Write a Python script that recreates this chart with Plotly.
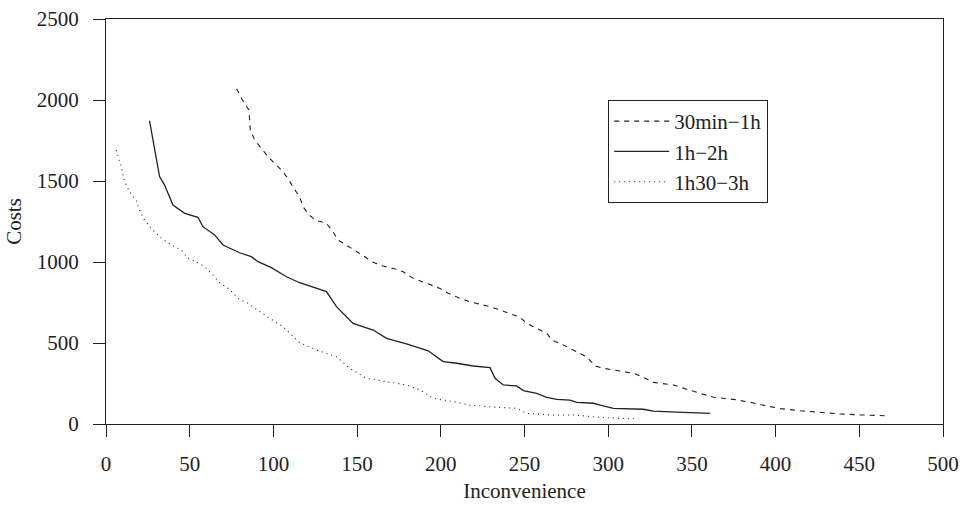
import plotly.graph_objects as go

# 30min-1h (dashed)
dashed_x = [78, 81.5, 85.4, 86.2, 88.8, 92.8, 96.8, 100.8, 105.7, 109.3, 112.1, 115.7, 117.7, 121.3, 125.7, 131.7,
            135.6, 138.6, 143.7, 148.6, 154, 158.6, 165.6, 173.6, 177.5, 183.5, 191.5, 199.5, 204.4, 211.4, 217.4,
            223.4, 229.4, 235.3, 241.3, 247.3, 251.3, 257.3, 263.3, 266.3, 273.2, 281.2, 287.2, 292.2, 297.1, 315.1,
            321, 327, 339, 347, 355, 362.9, 374.9, 384.9, 394.9, 402.8, 414.8, 426.8, 438.8, 450.7, 466.2]
dashed_y = [2070, 2000, 1938, 1815, 1753, 1702, 1650, 1609, 1557, 1506, 1455, 1403, 1341, 1290, 1255, 1239,
            1187, 1136, 1105, 1070, 1037, 1002, 975, 955, 940, 899, 868, 837, 807, 776, 755,
            741, 724, 704, 683, 659, 621, 591, 560, 519, 488, 446, 415, 358, 344, 313,
            288, 257, 241, 214, 189, 165, 152, 134, 111, 95, 82, 70, 62, 56, 51]

# 1h-2h (solid)
solid_x = [26, 27, 29, 30.4, 32, 35, 38, 40, 47, 54.9, 57.9, 64.9, 69.9, 79.8, 86.8, 90.8, 98.8, 107.8, 115.7,
           131.7, 137.7, 147.6, 159.6, 167.6, 179.5, 192.5, 201.4, 209.5, 219.4, 229.4, 232.4, 237.3, 245.3,
           249.3, 257.3, 263.3, 269.3, 277.2, 281.2, 291.2, 295.2, 303.1, 321, 327, 345, 361]
solid_y = [1872, 1815, 1712, 1609, 1527, 1475, 1403, 1352, 1300, 1276, 1218, 1167, 1105, 1057, 1033, 1002, 965,
           909, 872, 817, 724, 621, 580, 529, 494, 452, 385, 375, 358, 348, 282, 241, 235,
           206, 189, 165, 152, 148, 134, 128, 117, 97, 91, 80, 72, 66]

# 1h30-3h (dotted)
dotted_x = [6.1, 9.1, 11.1, 14, 18, 20, 23, 27, 32, 39, 45, 48.9, 55.9, 59.9, 63.9, 67.9, 73.9, 78.8, 84.8,
            91.8, 97.8, 105.7, 115.7, 125.7, 137.7, 145.6, 155.6, 167.6, 179.5, 187.5, 195.5, 207.4, 217.4,
            227.4, 245.3, 251.3, 265.3, 279.2, 295.2, 317.5]
dotted_y = [1690, 1588, 1496, 1434, 1383, 1321, 1259, 1208, 1156, 1105, 1074, 1023, 992, 961, 920, 872, 831,
            776, 745, 693, 652, 601, 502, 457, 415, 344, 282, 261, 241, 210, 159, 138, 117,
            107, 97, 66, 56, 56, 41, 31]

series_names = ["30min\u22121h", "1h\u22122h", "1h30\u22123h"]
x_ticks = [0, 50, 100, 150, 200, 250, 300, 350, 400, 450, 500]
y_ticks = [0, 500, 1000, 1500, 2000, 2500]

FONT = "Liberation Serif, Times New Roman, serif"
INK = "#222222"
FS = 21

fig = go.Figure()
fig.add_trace(go.Scatter(x=dashed_x, y=dashed_y, mode="lines", name=series_names[0],
                         line=dict(color=INK, width=1.1, dash="5px,5px")))
fig.add_trace(go.Scatter(x=solid_x, y=solid_y, mode="lines", name=series_names[1],
                         line=dict(color=INK, width=1.3)))
fig.add_trace(go.Scatter(x=dotted_x, y=dotted_y, mode="lines", name=series_names[2],
                         line=dict(color=INK, width=1.1, dash="1px,4px")))

axis_common = dict(showgrid=False, zeroline=False, showline=True, linecolor=INK, linewidth=1.2,
                   mirror=True, ticks="outside", ticklen=12, tickwidth=1, tickcolor=INK,
                   automargin=False,
                   tickfont=dict(family=FONT, size=FS, color=INK))

fig.update_xaxes(range=[0, 500], tickvals=x_ticks, ticklabelstandoff=9,
                 title=dict(text="Inconvenience", font=dict(family=FONT, size=FS, color=INK), standoff=8),
                 **axis_common)
fig.update_yaxes(range=[0, 2500], tickvals=y_ticks, ticklabelstandoff=10,
                 title=dict(text="Costs", font=dict(family=FONT, size=FS, color=INK), standoff=9),
                 **axis_common)

fig.update_layout(
    width=960, height=524,
    margin=dict(l=106, r=17, t=19, b=100),
    paper_bgcolor="white", plot_bgcolor="white",
    font=dict(family=FONT, size=FS, color=INK),
    legend=dict(x=0.6, y=0.8, xanchor="left", yanchor="top",
                bordercolor=INK, borderwidth=1, bgcolor="white",
                font=dict(family=FONT, size=FS, color=INK),
                itemwidth=55),
    showlegend=True,
)

fig.write_html("out.html", post_script="document.body.style.margin='0px';",
               config={"displayModeBar": False})
